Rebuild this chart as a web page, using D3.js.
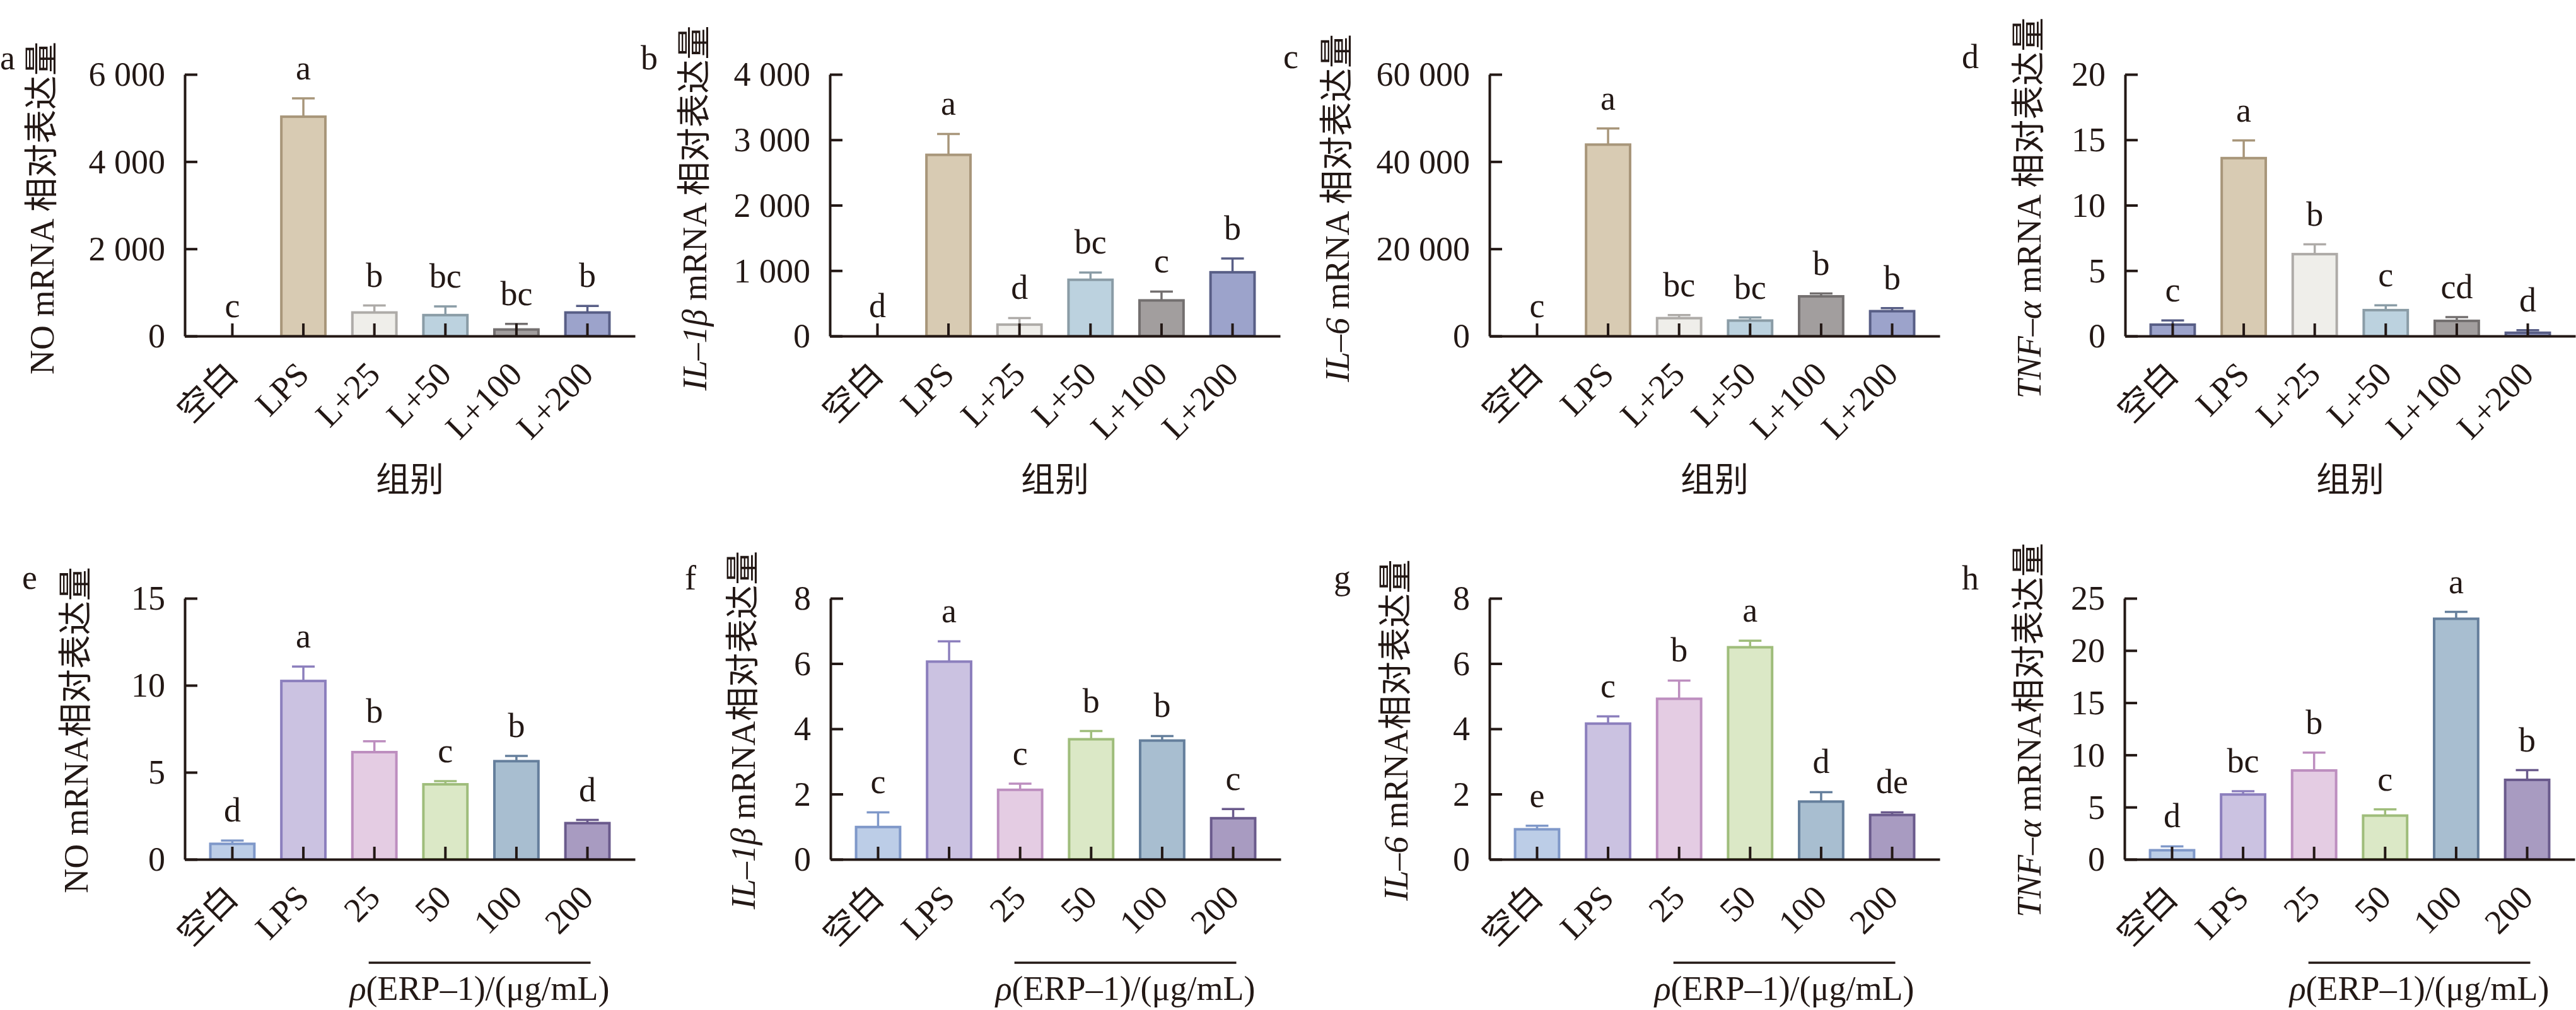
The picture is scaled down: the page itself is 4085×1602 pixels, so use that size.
<!DOCTYPE html>
<html>
<head>
<meta charset="utf-8">
<script src="https://cdn.jsdelivr.net/npm/d3@7"></script>
<style>
  body { margin: 0; background: #fff; }
  svg { display: block; }
  text { font-family: "Liberation Serif", "Noto Sans CJK SC", serif; fill: #231815; }
</style>
</head>
<body>
<svg id="chart" width="4085" height="1602"></svg>
<script>
// groups
const groupsTop = ["空白", "LPS", "L+25", "L+50", "L+100", "L+200"];
const groupsBottom = ["空白", "LPS", "25", "50", "100", "200"];

// top row: a NO, b IL-1β, c IL-6, d TNF-α
const noTop = [0, 5030, 540, 480, 150, 540];
const noTopErr = [0, 420, 160, 200, 130, 150];
const noTopSig = ["c", "a", "b", "bc", "bc", "b"];

const il1bTop = [0, 2770, 175, 860, 545, 975];
const il1bTopErr = [0, 320, 100, 110, 135, 210];
const il1bTopSig = ["d", "a", "d", "bc", "c", "b"];

const il6Top = [0, 43900, 4100, 3550, 9100, 5700];
const il6TopErr = [0, 3700, 700, 700, 650, 700];
const il6TopSig = ["c", "a", "bc", "bc", "b", "b"];

const tnfTop = [0.87, 13.6, 6.26, 1.98, 1.16, 0.25];
const tnfTopErr = [0.32, 1.35, 0.75, 0.37, 0.28, 0.2];
const tnfTopSig = ["c", "a", "b", "c", "cd", "d"];

// bottom row: e NO, f IL-1β, g IL-6, h TNF-α
const noBot = [0.89, 10.25, 6.16, 4.31, 5.64, 2.08];
const noBotErr = [0.19, 0.83, 0.62, 0.18, 0.3, 0.18];
const noBotSig = ["d", "a", "b", "c", "b", "d"];

const il1bBot = [0.99, 6.06, 2.13, 3.68, 3.64, 1.26];
const il1bBotErr = [0.45, 0.62, 0.19, 0.25, 0.14, 0.28];
const il1bBotSig = ["c", "a", "c", "b", "b", "c"];

const il6Bot = [0.92, 4.16, 4.92, 6.5, 1.77, 1.36];
const il6BotErr = [0.11, 0.22, 0.56, 0.2, 0.29, 0.08];
const il6BotSig = ["e", "c", "b", "a", "d", "de"];

const tnfBot = [0.87, 6.21, 8.51, 4.19, 23.04, 7.61];
const tnfBotErr = [0.37, 0.31, 1.71, 0.59, 0.66, 0.93];
const tnfBotSig = ["d", "bc", "b", "c", "a", "b"];

// y ticks
const ticksA = [0, 2000, 4000, 6000];
const ticksB = [0, 1000, 2000, 3000, 4000];
const ticksC = [0, 20000, 40000, 60000];
const ticksD = [0, 5, 10, 15, 20];
const ticksE = [0, 5, 10, 15];
const ticksF = [0, 2, 4, 6, 8];
const ticksG = [0, 2, 4, 6, 8];
const ticksH = [0, 5, 10, 15, 20, 25];

// colours
const topFill = ["#9ca3cb", "#d8cbb3", "#efeeea", "#bcd2df", "#a29e9e", "#9ca3cb"];
const topStroke = ["#585e86", "#a8967a", "#aeaba8", "#8a9ca6", "#736f6f", "#585e86"];
const botFill = ["#bccde7", "#cbc2e1", "#e4cce3", "#dbe8c6", "#a8bed0", "#a89bc1"];
const botStroke = ["#7f98c9", "#8c7fbd", "#bd8ebf", "#9fbd7b", "#657f9c", "#6a5a8c"];

const panels = [
  { id: "a", row: 0, x0: 293, vals: noTop, err: noTopErr, sig: noTopSig, ticks: ticksA, lab: [["NO mRNA 相对表达量", false]], labOff: 208, letter: [0, 110] },
  { id: "b", row: 0, x0: 1316, vals: il1bTop, err: il1bTopErr, sig: il1bTopSig, ticks: ticksB, lab: [["IL–1β", true], [" mRNA 相对表达量", false]], labOff: 196, letter: [1016, 110] },
  { id: "c", row: 0, x0: 2362, vals: il6Top, err: il6TopErr, sig: il6TopSig, ticks: ticksC, lab: [["IL–6", true], [" mRNA 相对表达量", false]], labOff: 223, letter: [2035, 108] },
  { id: "d", row: 0, x0: 3370, vals: tnfTop, err: tnfTopErr, sig: tnfTopSig, ticks: ticksD, lab: [["TNF–α", true], [" mRNA 相对表达量", false]], labOff: 134, letter: [3111, 108] },
  { id: "e", row: 1, x0: 293, vals: noBot, err: noBotErr, sig: noBotSig, ticks: ticksE, lab: [["NO mRNA相对表达量", false]], labOff: 154, letter: [35, 934] },
  { id: "f", row: 1, x0: 1317, vals: il1bBot, err: il1bBotErr, sig: il1bBotSig, ticks: ticksF, lab: [["IL–1β", true], [" mRNA相对表达量", false]], labOff: 120, letter: [1086, 935] },
  { id: "g", row: 1, x0: 2362, vals: il6Bot, err: il6BotErr, sig: il6BotSig, ticks: ticksG, lab: [["IL–6", true], [" mRNA相对表达量", false]], labOff: 130, letter: [2115, 934] },
  { id: "h", row: 1, x0: 3369, vals: tnfBot, err: tnfBotErr, sig: tnfBotSig, ticks: ticksH, lab: [["TNF–α", true], [" mRNA相对表达量", false]], labOff: 133, letter: [3111, 935] }
];

const rows = [
  { top: 118, base: 533, groups: groupsTop, fill: topFill, stroke: topStroke, labY: 330 },
  { top: 949, base: 1363, groups: groupsBottom, fill: botFill, stroke: botStroke, labY: 1158 }
];

const W = 714;
const FS = 54;
const fmt = v => d3.format(",")(v).replace(/,/g, " ");
const svg = d3.select("#chart");
svg.append("rect").attr("width", 4085).attr("height", 1602).attr("fill", "#fff");

panels.forEach(p => {
  const r = rows[p.row];
  const fill = (p.id === "d") ? topFill : r.fill;
  const x = d3.scaleBand().domain(r.groups).range([p.x0, p.x0 + W]).paddingInner(0.38).paddingOuter(0.36);
  const y = d3.scaleLinear().domain([0, d3.max(p.ticks)]).range([r.base, r.top]);
  const g = svg.append("g").attr("class", "panel-" + p.id);
  const bw = x.bandwidth();

  // bars
  g.selectAll("rect.bar").data(p.vals).join("rect")
    .attr("class", "bar")
    .attr("x", (d, i) => x(r.groups[i]))
    .attr("y", d => y(d))
    .attr("width", bw)
    .attr("height", d => r.base - y(d))
    .attr("fill", (d, i) => fill[i])
    .attr("stroke", (d, i) => r.stroke[i])
    .attr("stroke-width", d => d > 0 ? 4 : 0);

  // error bars (upper only) + letters
  p.vals.forEach((v, i) => {
    const e = p.err[i];
    const cx = x(r.groups[i]) + bw / 2;
    if (e > 0) {
      g.append("line").attr("x1", cx).attr("x2", cx).attr("y1", y(v)).attr("y2", y(v + e))
        .attr("stroke", r.stroke[i]).attr("stroke-width", 3.5);
      g.append("line").attr("x1", cx - 18).attr("x2", cx + 18).attr("y1", y(v + e)).attr("y2", y(v + e))
        .attr("stroke", r.stroke[i]).attr("stroke-width", 3.5);
    }
    g.append("text").attr("x", cx).attr("y", y(v + e) - 30)
      .attr("text-anchor", "middle").attr("font-size", FS).text(p.sig[i]);
  });

  // axes
  const ya = g.append("g").attr("transform", `translate(${p.x0},0)`)
    .call(d3.axisLeft(y).tickValues(p.ticks).tickFormat(fmt).tickSize(-20).tickSizeOuter(0).tickPadding(31));
  const xa = g.append("g").attr("transform", `translate(0,${r.base})`)
    .call(d3.axisBottom(x).tickSize(-20).tickSizeOuter(0).tickFormat(""));
  [ya, xa].forEach(a => {
    a.select(".domain").attr("stroke", "#231815").attr("stroke-width", 4);
    a.selectAll(".tick line").attr("stroke", "#231815").attr("stroke-width", 4);
  });
  ya.selectAll(".tick text").attr("font-size", FS).attr("font-family", "Liberation Serif")
    .attr("fill", "#231815").attr("dy", "0.33em");

  // rotated category labels
  r.groups.forEach(name => {
    const cx = x(name) + bw / 2;
    g.append("text").attr("transform", `translate(${cx + 12},${r.base + 64}) rotate(-45)`)
      .attr("text-anchor", "end").attr("font-size", FS).text(name);
  });

  // y label
  const yl = g.append("text").attr("transform", `translate(${p.x0 - p.labOff},${r.labY}) rotate(-90)`)
    .attr("text-anchor", "middle").attr("font-size", 54);
  p.lab.forEach(([t, it]) => {
    yl.append("tspan").attr("font-style", it ? "italic" : "normal").text(t);
  });

  // panel letter
  g.append("text").attr("x", p.letter[0]).attr("y", p.letter[1]).attr("font-size", FS).text(p.id);

  // x title
  if (p.row === 0) {
    g.append("text").attr("x", p.x0 + W / 2).attr("y", 780).attr("text-anchor", "middle")
      .attr("font-size", FS).text("组别");
  } else {
    const x1 = x(r.groups[2]) + bw / 2 - 9;
    const x2 = x(r.groups[5]) + bw / 2 + 5;
    g.append("line").attr("x1", x1).attr("x2", x2).attr("y1", 1527).attr("y2", 1527)
      .attr("stroke", "#231815").attr("stroke-width", 3.5);
    const t = g.append("text").attr("x", (x1 + x2) / 2).attr("y", 1586).attr("text-anchor", "middle")
      .attr("font-size", FS);
    t.append("tspan").attr("font-style", "italic").text("ρ");
    t.append("tspan").text("(ERP–1)/(μg/mL)");
  }
});
</script>
</body>
</html>
